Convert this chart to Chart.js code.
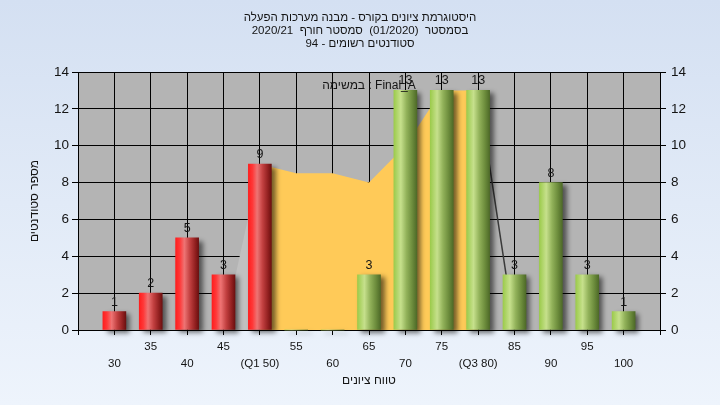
<!DOCTYPE html>
<html><head><meta charset="utf-8">
<script src="https://cdn.jsdelivr.net/npm/chart.js@4.4.1/dist/chart.umd.min.js"></script>
<style>html,body{margin:0;padding:0;width:720px;height:405px;overflow:hidden;background:#e4ecf8;}canvas{display:block;}</style>
</head><body><canvas id="c" width="720" height="405"></canvas>
<script>
// ---- data ----
const GRADES = [30, 35, 40, 45, 50, 55, 60, 65, 70, 75, 80, 85, 90, 95, 100];
const COUNTS = [1, 2, 5, 3, 9, 0, 0, 3, 13, 13, 13, 3, 8, 3, 1];
const TICK_VALUES = [30, 35, 40, 45, 50, 55, 60, 65, 70, 75, 80, 85, 90, 95, 100];
const TICK_LABELS = ['30', '35', '40', '45', '(Q1 50)', '55', '60', '65', '70', '75', '(Q3 80)', '85', '90', '95', '100'];
const CURVE_X = [45, 50, 55, 60, 65, 70, 75, 80, 85];
const CURVE_Y = [0, 9, 8.5, 8.5, 8, 10, 13, 13, 0];
const Q1 = 50, Q3 = 80;
const RED_MAX = 50;
const TITLE_LINES = ['היסטוגרמת ציונים בקורס - מבנה מערכות הפעלה', 'בסמסטר  (01/2020)  סמסטר חורף  2020/21', 'סטודנטים רשומים - 94'];
const X_TITLE = 'טווח ציונים';
const Y_TITLE = 'מספר סטודנטים';
const NOTE = 'במשימה : Final_A';

// ---- styles ----
const F = "'Liberation Sans Narrow', 'Liberation Sans', Arial, sans-serif";
const TXT = '#141414';
const BAR_W = 23;
const RED_STOPS = [[0, '#FF1E1E'], [0.18, '#FF3838'], [0.38, '#EE7474'], [0.62, '#C24040'], [0.85, '#922020'], [1, '#6C1010']];
const GREEN_STOPS = [[0, '#9CCB4C'], [0.3, '#C6E08C'], [0.55, '#92B25A'], [0.8, '#6C8C3C'], [1, '#4E6A28']];

const bgPlugin = {
  id: 'bg',
  beforeDraw(chart) {
    const {ctx, width, height, chartArea: a} = chart;
    const g = ctx.createLinearGradient(0, 0, 0, height);
    g.addColorStop(0, '#D4E0F2');
    g.addColorStop(1, '#EEF4FC');
    ctx.save();
    ctx.fillStyle = g;
    ctx.fillRect(0, 0, width, height);
    ctx.fillStyle = '#B4B4B4';
    ctx.fillRect(a.left, a.top, a.right - a.left, a.bottom - a.top);
    ctx.restore();
  },
  beforeDatasetDraw(chart, args) {
    if (chart.data.datasets[args.index].type === 'bar') {
      const ctx = chart.ctx;
      ctx.save();
      ctx.shadowColor = 'rgba(0,0,0,0.55)';
      ctx.shadowBlur = 5;
      ctx.shadowOffsetX = 4;
      ctx.shadowOffsetY = 3;
    }
  },
  afterDatasetDraw(chart, args) {
    const ctx = chart.ctx;
    if (chart.data.datasets[args.index].type === 'bar') {
      ctx.restore();
    } else {
      const a = chart.chartArea;
      ctx.save();
      ctx.strokeStyle = '#000';
      ctx.lineWidth = 1;
      ctx.beginPath();
      ctx.moveTo(a.left, Math.round(a.bottom) + 0.5);
      ctx.lineTo(a.right, Math.round(a.bottom) + 0.5);
      ctx.stroke();
      ctx.restore();
    }
  },
  afterDatasetsDraw(chart) {
    const ctx = chart.ctx;
    const a = chart.chartArea;
    const meta = chart.getDatasetMeta(1);
    ctx.save();
    ctx.font = '12.5px ' + F;
    ctx.fillStyle = TXT;
    ctx.textAlign = 'center';
    ctx.textBaseline = 'alphabetic';
    meta.data.forEach((el, i) => {
      const v = COUNTS[i];
      if (!v) return;
      ctx.fillText(String(v), el.x, el.y - 6);
    });
    ctx.font = '12px ' + F;
    ctx.textBaseline = 'middle';
    ctx.fillText(NOTE, (a.left + a.right) / 2, a.top + 14);
    ctx.restore();
  }
};

const barData = GRADES.map((g, i) => ({x: g, y: COUNTS[i]}));
const curveData = CURVE_X.map((x, i) => ({x: x, y: CURVE_Y[i]}));

function barFill(c) {
  const fallback = (c.raw && c.raw.x <= RED_MAX) ? '#E03030' : '#8DB050';
  if (c.type !== 'data' || !c.chart.scales || !c.chart.scales.x) return fallback;
  const cx = c.chart.scales.x.getPixelForValue(c.raw.x);
  if (!isFinite(cx)) return fallback;
  const g = c.chart.ctx.createLinearGradient(cx - BAR_W / 2, 0, cx + BAR_W / 2, 0);
  (c.raw.x <= RED_MAX ? RED_STOPS : GREEN_STOPS).forEach(([o, col]) => g.addColorStop(o, col));
  return g;
}

new Chart(document.getElementById('c'), {
  type: 'bar',
  data: {
    datasets: [
      {
        type: 'line',
        data: curveData,
        order: 2,
        fill: 'origin',
        pointRadius: 0,
        tension: 0,
        borderWidth: 1.5,
        borderColor: 'rgba(0,0,0,0)',
        backgroundColor: '#FFCA58',
        segment: {
          backgroundColor: (c) => c.p0.parsed.x < Q1 ? '#C0C0C0' : (c.p0.parsed.x >= Q3 ? 'rgba(0,0,0,0)' : '#FFCA58'),
          borderColor: (c) => c.p0.parsed.x >= Q3 ? '#3a3a3a' : 'rgba(0,0,0,0)'
        }
      },
      {
        type: 'bar',
        data: barData,
        order: 1,
        clip: false,
        barThickness: BAR_W,
        borderWidth: 0,
        backgroundColor: barFill
      }
    ]
  },
  options: {
    responsive: false,
    animation: false,
    devicePixelRatio: 1,
    layout: {padding: 0},
    plugins: {
      legend: {display: false},
      tooltip: {enabled: false},
      title: {
        display: true,
        text: TITLE_LINES,
        color: TXT,
        font: {family: F, size: 11.5, weight: 'normal', lineHeight: 13 / 11.5},
        padding: {top: 11, bottom: 22}
      }
    },
    scales: {
      x: {
        type: 'linear',
        min: 25,
        max: 105,
        offset: false,
        ticks: {
          stepSize: 5,
          autoSkip: false,
          maxRotation: 0,
          minRotation: 0,
          padding: 3,
          color: TXT,
          font: {family: F, size: 11.5, lineHeight: 17 / 11.5},
          callback: (v) => {
            const i = TICK_VALUES.indexOf(v);
            if (i < 0) return '';
            return i % 2 === 0 ? ['', TICK_LABELS[i]] : [TICK_LABELS[i]];
          }
        },
        grid: {color: '#000', lineWidth: 1, offset: false, tickLength: 5},
        border: {color: '#000', width: 1},
        title: {display: true, text: X_TITLE, color: TXT, font: {family: F, size: 12}, padding: {top: 0, bottom: 17}},
        afterFit: (s) => { s.height = 75; }
      },
      y: {
        position: 'left',
        min: 0,
        max: 14,
        ticks: {stepSize: 2, padding: 3, color: TXT, font: {family: F, size: 13.5}},
        grid: {color: '#000', lineWidth: 1, tickLength: 6},
        border: {color: '#000', width: 1},
        title: {display: true, text: Y_TITLE, color: TXT, font: {family: F, size: 12}, padding: {top: 27, bottom: 0}},
        afterFit: (s) => { s.width = 78; }
      },
      y2: {
        position: 'right',
        min: 0,
        max: 14,
        ticks: {stepSize: 2, padding: 5, color: TXT, font: {family: F, size: 13.5}},
        grid: {drawOnChartArea: false, color: '#000', tickLength: 6},
        border: {color: '#000', width: 1},
        afterFit: (s) => { s.width = 60; }
      }
    }
  },
  plugins: [bgPlugin]
});
</script>
</body></html>
